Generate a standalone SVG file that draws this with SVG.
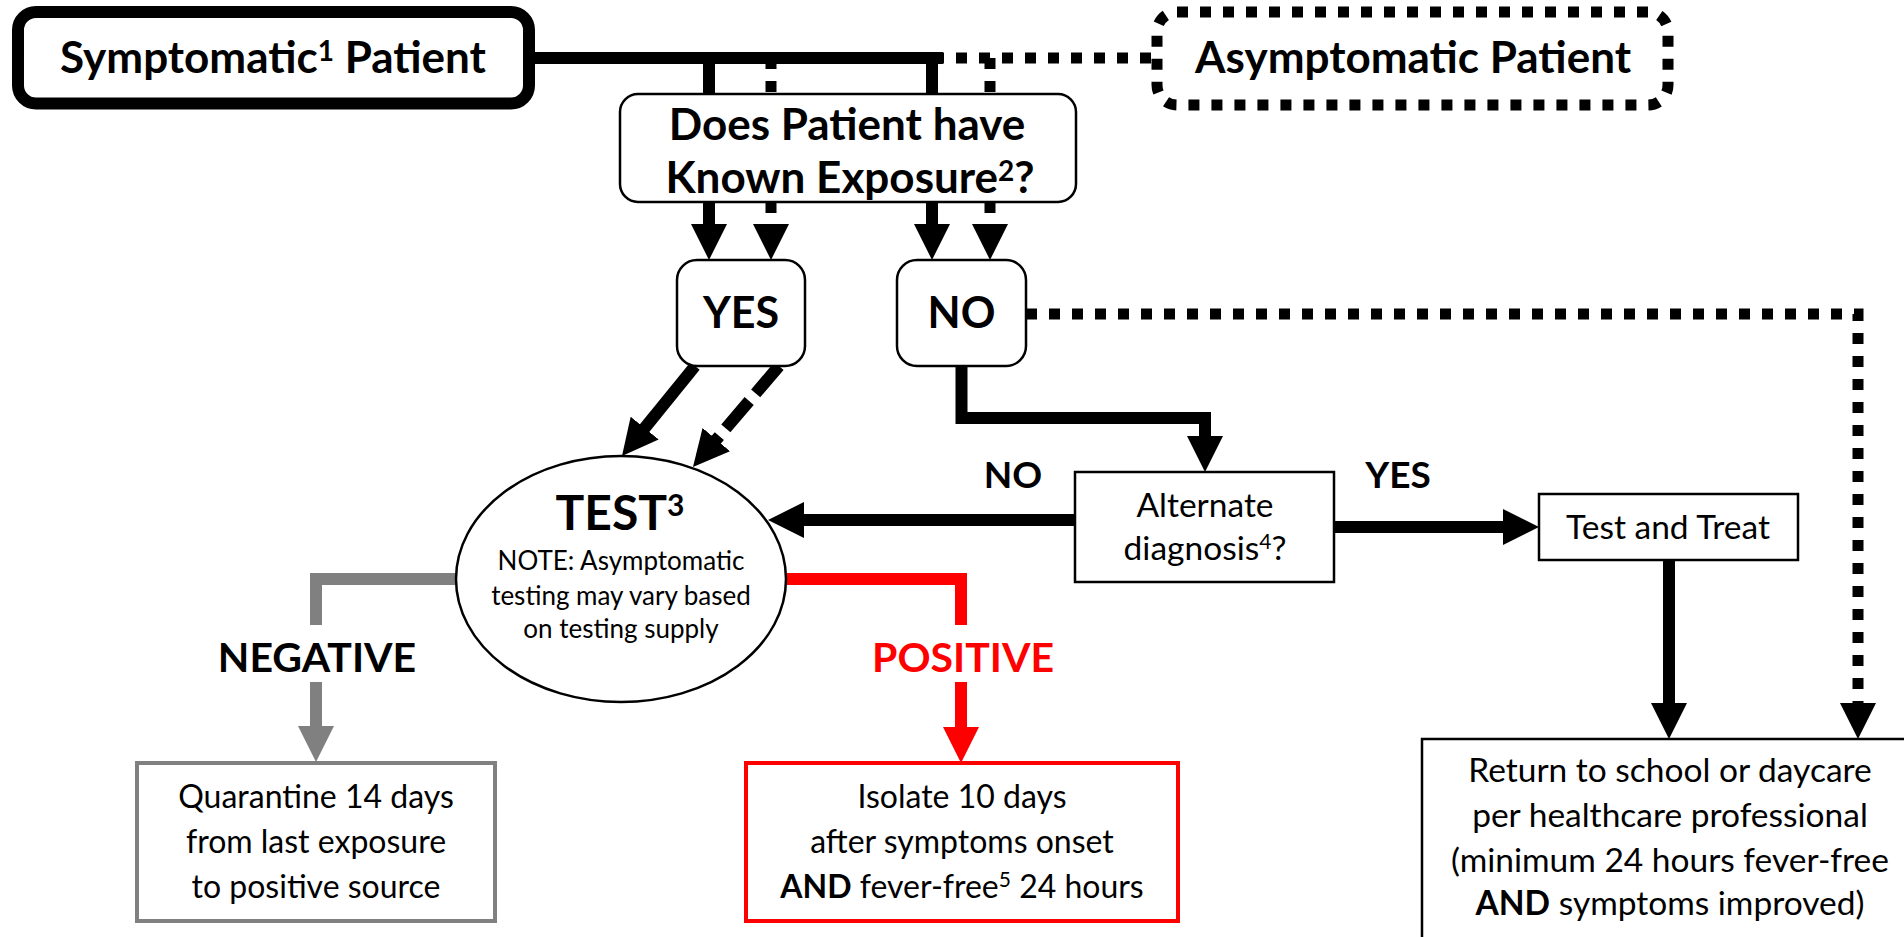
<svg xmlns="http://www.w3.org/2000/svg" width="1904" height="937" viewBox="0 0 1904 937">
<defs>
<style>
text { font-family: Lato, "Liberation Sans", Arial, sans-serif; fill: #000; text-anchor: middle; }
.big { font-size: 44px; font-weight: 700; }
.lbl { font-size: 37px; font-weight: 700; }
.neg { font-size: 41px; font-weight: 700; }
.body { font-size: 32px; }
.body2 { font-size: 33.5px; }
.note { font-size: 26px; }
.b { font-weight: 700; }
.box { fill: #fff; stroke: #000; stroke-width: 2.5; }
.conn { fill: none; stroke: #000; stroke-width: 12; stroke-linejoin: miter; }
.dot { stroke-width: 11; stroke-dasharray: 11 12; }
.dash { stroke-dasharray: 36 10; }
</style>
<marker id="ah" markerUnits="userSpaceOnUse" markerWidth="36" markerHeight="36" viewBox="0 0 36 36" refX="2" refY="18" orient="auto"><path d="M0,0 L36,18 L0,36 Z" fill="#000"/></marker>
<marker id="ahg" markerUnits="userSpaceOnUse" markerWidth="36" markerHeight="36" viewBox="0 0 36 36" refX="2" refY="18" orient="auto"><path d="M0,0 L36,18 L0,36 Z" fill="#808080"/></marker>
<marker id="ahr" markerUnits="userSpaceOnUse" markerWidth="36" markerHeight="36" viewBox="0 0 36 36" refX="2" refY="18" orient="auto"><path d="M0,0 L36,18 L0,36 Z" fill="#ff0000"/></marker>
</defs>
<rect x="0" y="0" width="1904" height="937" fill="#fff"/>

<g id="connectors">
  <path class="conn" d="M535,58 H943"/>
  <path class="conn dot" d="M1151,58 H943"/>
  <path class="conn" d="M709,58 V94"/>
  <path class="conn" d="M932,58 V94"/>
  <path class="conn dot" d="M771,58 V94"/>
  <path class="conn dot" d="M990,58 V94"/>
  <path class="conn" d="M709,202 V226" marker-end="url(#ah)"/>
  <path class="conn dot" d="M771,202 V226" marker-end="url(#ah)"/>
  <path class="conn" d="M932,202 V226" marker-end="url(#ah)"/>
  <path class="conn dot" d="M990,202 V226" marker-end="url(#ah)"/>
  <path class="conn" d="M695,366 L643.4,429.6" marker-end="url(#ah)"/>
  <path class="conn dash" d="M779,366 L715,441.1" marker-end="url(#ah)"/>
  <path class="conn" d="M961.5,366 V418 H1205 V438" marker-end="url(#ah)"/>
  <path class="conn dot" d="M1026,314 H1858 V705" marker-end="url(#ah)"/>
  <path class="conn" d="M1075,520 H802" marker-end="url(#ah)"/>
  <path class="conn" d="M1334,527 H1505" marker-end="url(#ah)"/>
  <path class="conn" d="M1669,560 V705" marker-end="url(#ah)"/>
  <path class="conn" style="stroke:#808080" d="M456,579 H316 V625 M316,682 V728" marker-end="url(#ahg)"/>
  <path class="conn" style="stroke:#ff0000" d="M786,579 H961 V625 M961,682 V729" marker-end="url(#ahr)"/>
  <text class="lbl" x="1013" y="488">NO</text>
  <text class="lbl" x="1398" y="488">YES</text>
  <text class="neg" x="317" y="672">NEGATIVE</text>
  <text class="neg" x="963" y="672" style="fill:#ff0000">POSITIVE</text>
</g>

<g id="symptomatic">
  <rect x="18" y="12" width="511" height="91.5" rx="18" fill="#fff" stroke="#000" stroke-width="12"/>
  <text class="big" x="273" y="73">Symptomatic<tspan font-size="28" dy="-12">1</tspan><tspan dy="12"> Patient</tspan></text>
</g>

<g id="asymptomatic">
  <rect x="1157" y="12" width="511" height="93" rx="20" fill="#fff" stroke="#000" stroke-width="11" stroke-dasharray="11 12"/>
  <text class="big" x="1413" y="73">Asymptomatic Patient</text>
</g>

<g id="exposure">
  <rect class="box" x="620" y="94" width="456" height="108" rx="18"/>
  <text class="big" x="847" y="140">Does Patient have</text>
  <text class="big" x="850" y="193">Known Exposure<tspan font-size="28" dy="-12">2</tspan><tspan dy="12">?</tspan></text>
</g>

<g id="yes">
  <rect class="box" x="677" y="260" width="128" height="106" rx="20"/>
  <text class="big" x="741" y="328" style="font-size:43px">YES</text>
</g>

<g id="no">
  <rect class="box" x="897" y="260" width="129" height="106" rx="20"/>
  <text class="big" x="961.5" y="328" style="font-size:43px">NO</text>
</g>

<g id="test">
  <ellipse class="box" cx="621" cy="579" rx="165" ry="123"/>
  <text style="font-size:48px;font-weight:700" x="620" y="530">TEST<tspan font-size="30" dy="-14">3</tspan></text>
  <text class="note" x="621" y="570">NOTE: Asymptomatic</text>
  <text class="note" x="621" y="605">testing may vary based</text>
  <text class="note" x="621" y="638">on testing supply</text>
</g>

<g id="alternate">
  <rect class="box" x="1075" y="472" width="259" height="110"/>
  <text class="body2" x="1205" y="517">Alternate</text>
  <text class="body2" x="1205" y="560">diagnosis<tspan font-size="21" dy="-11">4</tspan><tspan dy="11">?</tspan></text>
</g>

<g id="testtreat">
  <rect class="box" x="1539" y="494" width="259" height="66"/>
  <text class="body2" x="1668" y="539">Test and Treat</text>
</g>

<g id="quarantine">
  <rect x="137" y="763" width="358" height="158" fill="#fff" stroke="#808080" stroke-width="4"/>
  <text class="body" x="316" y="808">Quarantine 14 days</text>
  <text class="body" x="316" y="853">from last exposure</text>
  <text class="body" x="316" y="898">to positive source</text>
</g>

<g id="isolate">
  <rect x="746" y="763" width="432" height="158" fill="#fff" stroke="#ff0000" stroke-width="4"/>
  <text class="body" x="962" y="808">Isolate 10 days</text>
  <text class="body" x="962" y="853">after symptoms onset</text>
  <text class="body" x="962" y="898"><tspan class="b">AND</tspan> fever-free<tspan font-size="21" dy="-11">5</tspan><tspan dy="11"> 24 hours</tspan></text>
</g>

<g id="return">
  <rect class="box" x="1422" y="739" width="500" height="230"/>
  <text class="body2" x="1670" y="782">Return to school or daycare</text>
  <text class="body2" x="1670" y="827">per healthcare professional</text>
  <text class="body2" x="1670" y="872">(minimum 24 hours fever-free</text>
  <text class="body2" x="1670" y="915"><tspan class="b">AND</tspan> symptoms improved)</text>
</g>
</svg>
